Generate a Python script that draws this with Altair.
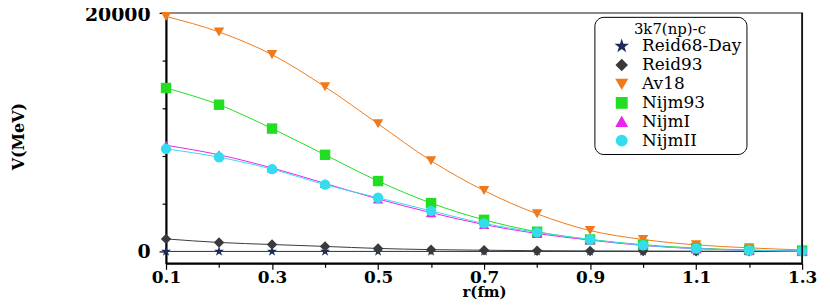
import altair as alt
import pandas as pd

r = [0.1, 0.2, 0.3, 0.4, 0.5, 0.6, 0.7, 0.8, 0.9, 1.0, 1.1, 1.2, 1.3]
series = ["Reid68-Day", "Reid93", "Av18", "Nijm93", "NijmI", "NijmII"]
reid68 = [0, 0, 0, 0, 0, 0, 0, 0, 0, 0, 0, 0, 0]
reid93 = [1050, 750, 580, 420, 250, 150, 100, 60, 40, 25, 15, 8, 5]
av18 = [19700, 18400, 16500, 13800, 10700, 7600, 5100, 3150, 1750, 1000, 550, 300, 120]
nijm93 = [13700, 12300, 10300, 8100, 5900, 4050, 2650, 1650, 1000, 560, 280, 120, 40]
nijmI = [8900, 8100, 7000, 5700, 4400, 3250, 2250, 1500, 950, 500, 230, 90, 30]
nijmII = [8600, 7900, 6900, 5600, 4500, 3400, 2350, 1600, 1000, 520, 240, 95, 30]

x_ticks = [round(0.1 + 0.05 * i, 2) for i in range(25)]
y_ticks = list(range(0, 20001, 1000))

colors = ["#1c2b5e", "#3a3a3a", "#f07a1a", "#22dd22", "#ee22ee", "#33ddee"]
star = ("M0,-1 L0.224,-0.309 L0.951,-0.309 L0.363,0.118 L0.588,0.809 L0,0.382 "
        "L-0.588,0.809 L-0.363,0.118 L-0.951,-0.309 L-0.224,-0.309 Z")
shapes = [star, "diamond", "triangle-down", "square", "triangle-up", "circle"]

values = [reid68, reid93, av18, nijm93, nijmI, nijmII]
rows = []
for name, vals in zip(series, values):
    for x, v in zip(r, vals):
        rows.append({"r": x, "V": v, "model": name})
df = pd.DataFrame(rows)

xscale = alt.Scale(domain=[0.1, 1.3], nice=False, zero=False)
yscale = alt.Scale(domain=[-1000, 20000], nice=False, zero=False)
cscale = alt.Scale(domain=series, range=colors)
sscale = alt.Scale(domain=series, range=shapes)

x_major_test = "round(datum.value*20) % 4 === 2"
y_major_test = "datum.value % 5000 === 0"

x_axis = alt.Axis(
    values=x_ticks, format=".1f", labelOverlap=False, labelFlush=False,
    labelExpr="(round(datum.value*20) % 4 === 2) ? datum.label : ''",
    labelFontSize={"condition": {"test": x_major_test, "value": 17}, "value": 0},
    tickSize={"condition": {"test": x_major_test, "value": 6}, "value": 4},
    tickColor="black", tickWidth=1.2,
    domainColor="black", domainWidth=2, grid=False,
    labelFont="DejaVu Serif", labelFontWeight="bold",
    labelColor="black", labelPadding=0,
    title="r(fm)", titleFont="DejaVu Serif", titleFontWeight="bold",
    titleFontSize=15, titleColor="black", titleY=33, titleBaseline="alphabetic",
)
y_axis = alt.Axis(
    values=y_ticks, format="d", labelOverlap=False, labelFlush=False,
    labelExpr="datum.value % 5000 === 0 ? datum.label : ''",
    labelFontSize={"condition": {"test": y_major_test, "value": 19}, "value": 0},
    labelOffset={"condition": {"test": "datum.value === 20000", "value": 2}, "value": 0},
    tickSize={"condition": {"test": y_major_test, "value": 7}, "value": 4},
    tickColor="black", tickWidth=1.2,
    domainColor="black", domainWidth=2, grid=False,
    labelFont="DejaVu Serif", labelFontWeight="bold",
    labelColor="black", labelPadding=9,
    title="V(MeV)", titleFont="DejaVu Serif", titleFontWeight="bold",
    titleFontSize=16, titleColor="black", titleX=-140, titleY=124,
)

legend = alt.Legend(title="3k7(np)-c", orient="none", legendX=431, legendY=4)

base = alt.Chart(df)

lines = base.mark_line(strokeWidth=1, interpolate="monotone").encode(
    x=alt.X("r:Q", scale=xscale, axis=x_axis),
    y=alt.Y("V:Q", scale=yscale, axis=y_axis),
    color=alt.Color("model:N", scale=cscale, legend=legend),
    detail="model:N",
)

points = base.mark_point(filled=True, size=110, opacity=1).encode(
    x=alt.X("r:Q", scale=xscale),
    y=alt.Y("V:Q", scale=yscale),
    color=alt.Color("model:N", scale=cscale, legend=legend),
    shape=alt.Shape("model:N", scale=sscale, legend=legend),
)

border = alt.Chart(pd.DataFrame({"t": [1.3]})).mark_rule(color="black", strokeWidth=1.5).encode(
    x=alt.X("t:Q", scale=xscale),
)

chart = alt.layer(lines, points, border).properties(
    width=640, height=252,
    autosize=alt.AutoSizeParams(type="none"),
    padding={"left": 159, "top": 4, "right": 20, "bottom": 42},
    background="white",
).configure_view(stroke="#8a8a8a", strokeWidth=2).configure_legend(
    titleAnchor="middle", titleFont="DejaVu Serif", titleFontWeight="normal",
    titleFontSize=15, titleColor="black", titlePadding=1,
    labelFont="DejaVu Serif", labelFontSize=17, labelColor="black",
    strokeColor="black", cornerRadius=9, fillColor="white",
    padding=5, rowPadding=1, symbolSize=110, symbolOffset=14, labelOffset=12,
)

chart.save("out.html", embed_options={"renderer": "svg", "actions": False})
